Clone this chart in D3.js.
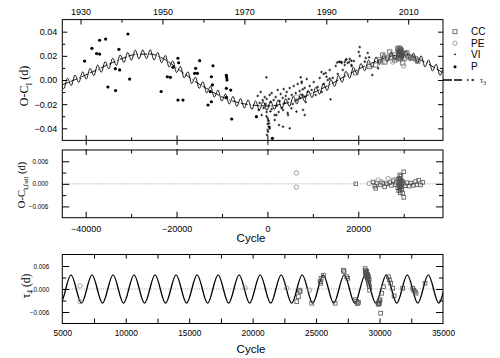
<!DOCTYPE html>
<html><head><meta charset="utf-8">
<script src="https://cdn.jsdelivr.net/npm/d3@7"></script>
<style>body{margin:0;background:#fff}</style>
</head><body>
<svg id="c" width="500" height="358"></svg>
<script>
// ---------------- DATA ----------------
const yearLabels = [1930, 1950, 1970, 1990, 2010];
const yearMinor = [1940, 1960, 1980, 2000];
const cycleLabels = [-40000, -20000, 0, 20000];
const cycleMinor = [-30000, -10000, 10000, 30000];
const topYLabels = [-0.04, -0.02, 0, 0.02, 0.04];
const topYMinor = [-0.03, -0.01, 0.01, 0.03];
const smallYLabels = [-0.006, 0, 0.006];
const smallYMinor = [-0.003, 0.003];
const botXLabels = [5000, 10000, 15000, 20000, 25000, 30000, 35000];
const botXTicks = [7500, 10000, 12500, 15000, 17500, 20000, 22500, 25000, 27500, 30000, 32500];

// tau3 (LITE, long period)
const tau3Cycle = [-45150,-41300,-36900,-32500,-29200,-25900,-22600,-19300,-16000,-12700,-9400,-6100,-2800,0,3800,7100,10400,13700,17000,20300,23600,26900,30200,33500,36900,38650];
const tau3Value = [-0.004,0.002,0.0095,0.017,0.021,0.0215,0.017,0.008,-0.001,-0.0085,-0.015,-0.019,-0.021,-0.0215,-0.0195,-0.0155,-0.010,-0.004,0.003,0.0095,0.015,0.0195,0.021,0.017,0.010,0.006];

// tau4 (short period) extrema
const tau4PeakCycle = [-45660,-44004,-42348,-40691,-39035,-37379,-35723,-34066,-32410,-30754,-29097,-27441,-25785,-24128,-22472,-20816,-19160,-17503,-15847,-14191,-12534,-10878,-9222,-7565,-5909,-4253,-2597,-940,716,2372,4029,5685,7341,8998,10654,12310,13967,15623,17279,18935,20592,22248,23904,25561,27217,28873,30530,32186,33842,35498,37155,38811];
const tau4TroughCycle = [-44832,-43176,-41520,-39863,-38207,-36551,-34895,-33238,-31582,-29926,-28269,-26613,-24957,-23300,-21644,-19988,-18332,-16675,-15019,-13363,-11706,-10050,-8394,-6737,-5081,-3425,-1769,-112,1544,3200,4857,6513,8169,9826,11482,13138,14795,16451,18107,19763,21420,23076,24732,26389,28045,29701,31358,33014,34670,36326,37983,39639];
const tau4PeakValue = 0.0037;
const tau4TroughValue = -0.0037;

// top panel: photographic / visual (P)
const pCycle = [-40242,-38633,-37599,-36938,-36938,-35617,-35110,-33480,-33414,-32533,-32687,-30705,-30330,-23392,-22026,-21366,-20794,-19692,-19537,-19692,-18590,-16013,-15418,-15793,-14912,-12335,-12114,-11982,-13084,-12335,-12555,-9031,-8965,-8899,-9031,-8083,-9031,-7863,-2423,1101];
const pOC = [0.0157,0.0262,0.0219,0.0215,0.0329,0.0339,-0.0058,0.0094,-0.0087,0.0083,0.0254,0.0381,0.0008,-0.0095,0.0027,0.0022,0.0105,0.0180,0.0143,-0.0166,-0.0166,0.0055,0.0055,0.0097,0.0160,0.0027,-0.0041,0.0118,-0.0207,-0.0180,-0.0097,0.0039,0.0021,0.0000,-0.0069,-0.0083,-0.0143,-0.0323,-0.0304,-0.0483];

// top panel: visual (VI)
const viCycle = [-2136,-1916,-1696,-1476,-1255,-1035,-815,-595,-374,-154,-154,66,66,66,286,286,507,507,727,947,947,1388,1608,1828,2049,2269,2489,2709,2930,3150,3370,3590,3811,4031,4251,4471,4692,4912,5352,5573,5793,6234,6454,6674,7115,7335,7555,7776,8216,8437,8657,8877,9318,
 7841,8216,6387,5286,4537,3436,1982,2555,3436,4912,1608,660,-220,130,350,290,130,500,-100,
 -220,7335,7555,7776,8216,
 9759,10199,10640,11080,11521,11961,12402,12843,13283,13724,14385,15045,15486,15927,16367,16587,17028,17248,17689,18129,18570,19010,
 11894,12400,13000,13720,13900,
 20330,20110,20330,22092,21652,23073,24294,
 15777,15337,16291,17393,17980,18494,18494,17026,24366,21430,22385];
const viOC = [-0.0132,-0.0248,-0.0190,-0.0099,-0.0290,-0.0166,-0.0232,-0.0141,-0.0199,-0.0265,-0.0157,-0.0315,-0.0364,-0.0414,-0.0339,-0.0215,-0.0389,-0.0124,-0.0182,-0.0240,-0.0108,-0.0166,-0.0290,-0.0141,-0.0215,-0.0083,-0.0265,-0.0174,-0.0116,-0.0232,-0.0149,-0.0075,-0.0190,-0.0132,-0.0099,-0.0273,-0.0157,-0.0066,-0.0124,-0.0199,-0.0050,-0.0108,-0.0166,-0.0033,-0.0091,-0.0149,-0.0025,-0.0124,-0.0066,-0.0182,0.0008,-0.0099,-0.0050,
 -0.0248,-0.0290,-0.0262,-0.0234,-0.0290,-0.0248,-0.0290,-0.0373,-0.0387,-0.0400,-0.0331,-0.0260,-0.0300,-0.0331,-0.0359,-0.0387,-0.0428,-0.0400,-0.0455,
 0.0022,0.0022,-0.0014,-0.0077,-0.0138,
 -0.0083,-0.0017,-0.0124,-0.0058,0.0017,-0.0099,-0.0033,0.0058,0.0000,0.0083,0.0017,0.0116,0.0050,0.0149,0.0141,0.0083,0.0149,0.0166,0.0141,0.0174,0.0116,0.0157,
 0.0066,0.0050,0.0027,0.0011,-0.0160,
 0.0273,0.0232,0.0199,0.0224,0.0182,0.0041,0.0149,
 0.0152,0.0144,0.0149,0.0171,0.0149,0.0160,0.0124,0.0124,0.0097,0.0152,0.0188];

// top panel: CCD (CC) and photoelectric (PE)
const ccCycle = [23854,24735,25396,25837,26497,26938,27378,28039,28700,28920,28920,29140,29140,29361,29361,29581,29581,28920,29801,30242,30683,30903,31564,32004,32665,33106,28039,29000,29250,29050,29300,29450,29200,22400,19450,29100,29400];
const ccOC = [0.0124,0.0166,0.0207,0.0149,0.0182,0.0232,0.0190,0.0207,0.0257,0.0240,0.0224,0.0207,0.0190,0.0248,0.0232,0.0215,0.0199,0.0182,0.0141,0.0182,0.0224,0.0199,0.0190,0.0182,0.0174,0.0157,0.0166,0.0265,0.0255,0.0210,0.0200,0.0240,0.0175,0.0110,0.0060,0.0230,0.0220];
const peCycle = [25219,26057,27599,30021,31343,6380,6380,22385];
const peOC = [0.0149,0.0190,0.0149,0.0116,0.0182,-0.0140,-0.0175,0.0125];

// middle panel: residuals of the full fit
const midCcCycle = [19449,23266,23633,23853,24100,24900,25400,25800,26300,26900,27300,27700,28100,28400,28700,28800,28900,29000,29050,29100,29150,29200,29250,29300,29350,29400,29450,29500,29600,29700,30020,30020,29800,29900,30300,30700,31200,31600,32100,32600,32900,33300,33700,34200,29120,29180,29230,29280];
const midCcRes = [0.0000,0.0005,-0.0006,-0.0012,0.0002,-0.0003,0.0002,-0.0008,0.0000,0.0003,-0.0004,0.0008,-0.0002,0.0004,-0.0010,0.0012,-0.0018,0.0006,-0.0006,0.0015,-0.0012,0.0002,-0.0024,0.0009,-0.0003,0.0020,-0.0008,0.0004,-0.0014,0.0007,0.0032,-0.0036,-0.0025,0.0001,-0.0005,0.0003,-0.0006,0.0002,-0.0004,0.0006,-0.0002,0.0010,-0.0003,0.0004,0.0024,-0.0017,0.0011,-0.0009];
const midPeCycle = [6380,6380,22385,24367,26570,25100,27800];
const midPeRes = [0.0029,-0.0009,0.0001,0.0010,0.0014,0.0006,0.0011];

// bottom panel: tau4 from the data
const botCcCycle = [23478,23609,23688,23740,24660,25315,25368,25394,25578,26497,27153,27205,27415,27494,28072,28203,28334,28250,
 28860,28900,28930,28960,28990,29010,29040,29060,29080,29100,29120,29140,29160,29180,29200,29220,28880,28950,29020,
 29880,29920,29950,29980,30010,30040,30093,30172,30303,30697,30775,30880,31038,31143,31825,32613,32700,32790,32875,33584];
const botCcTau4 = [-0.0033,-0.0020,-0.0003,-0.0007,-0.0037,0.0019,0.0015,0.0028,0.0036,-0.0037,0.0049,0.0045,0.0032,0.0028,-0.0028,-0.0032,-0.0035,-0.0038,
 0.0053,0.0048,0.0044,0.0040,0.0046,0.0036,0.0031,0.0038,0.0027,0.0022,0.0033,0.0017,0.0012,0.0025,0.0007,-0.0003,0.0041,0.0034,0.0029,
 -0.0037,-0.0040,-0.0034,-0.0038,-0.0031,-0.0028,-0.0063,-0.0011,0.0006,0.0032,0.0024,0.0015,0.0002,-0.0018,0.0002,0.0002,-0.0003,-0.0007,-0.0011,0.0015];
const botPeCycle = [6400,6400,19400,22690,24476];
const botPeTau4 = [0.0008,-0.0033,0.0003,0.0002,-0.0003];

const legendItems = ["CC", "PE", "VI", "P"];

// ---------------- DRAW ----------------
const svg = d3.select("#c");
const F = "'Liberation Sans', Arial, Helvetica, sans-serif";
const SERIF = "'Liberation Serif', 'Times New Roman', serif";
const L = 62.3, R = 443;

const xCyc = d3.scaleLinear().domain([-45150, 38650]).range([L, R]);
const xYear = d3.scaleLinear().domain([1925.55, 2018.5]).range([L, R]);
const yTop = d3.scaleLinear().domain([-0.05, 0.05]).range([140.4, 19.6]);
const yMid = d3.scaleLinear().domain([-0.009, 0.009]).range([217.7, 150]);
const xBot = d3.scaleLinear().domain([5000, 35000]).range([L, R]);
const yBot = d3.scaleLinear().domain([-0.009, 0.009]).range([323.5, 254.5]);

const panels = [
  {id: "pt", x: xCyc, y: yTop},
  {id: "pm", x: xCyc, y: yMid},
  {id: "pb", x: xBot, y: yBot}
];
const defs = svg.append("defs");
panels.forEach(p => {
  defs.append("clipPath").attr("id", "clip-" + p.id).append("rect")
    .attr("x", L).attr("y", p.y.range()[1]).attr("width", R - L).attr("height", p.y.range()[0] - p.y.range()[1]);
});

function ax(transform, axis, fs) {
  const g = svg.append("g").attr("transform", transform).call(axis);
  g.select(".domain").remove();
  g.selectAll("line").attr("stroke", "#000").attr("stroke-width", 1);
  g.selectAll("text").attr("font-family", F).attr("font-size", fs || 9).attr("fill", "#000");
  return g;
}
const none = () => "";

// ---- zero lines
[yMid, yBot].forEach(y => {
  svg.append("line").attr("x1", L).attr("x2", R).attr("y1", y(0)).attr("y2", y(0))
    .attr("stroke", "#8a8a8a").attr("stroke-width", 0.8).attr("stroke-dasharray", "1,1.4");
});

// ---- curves
const extrema = tau4PeakCycle.map(c => [c, tau4PeakValue])
  .concat(tau4TroughCycle.map(c => [c, tau4TroughValue]))
  .sort((a, b) => a[0] - b[0]);
const tau3Scale = d3.scaleLinear().domain(tau3Cycle).range(tau3Value);

const gTop = svg.append("g").attr("clip-path", "url(#clip-pt)");
gTop.append("path")
  .datum(tau3Cycle.map((c, i) => [c, tau3Value[i]]))
  .attr("d", d3.line().x(d => xCyc(d[0])).y(d => yTop(d[1])).curve(d3.curveMonotoneX))
  .attr("fill", "none").attr("stroke", "#000").attr("stroke-width", 0.9)
  .attr("stroke-dasharray", "7,2,7,2,1,2");
gTop.append("path")
  .datum(extrema.map(d => [d[0], tau3Scale(d[0]) + d[1]]))
  .attr("d", d3.line().x(d => xCyc(d[0])).y(d => yTop(d[1])).curve(d3.curveMonotoneX))
  .attr("fill", "none").attr("stroke", "#000").attr("stroke-width", 0.9);

const gBot = svg.append("g").attr("clip-path", "url(#clip-pb)");
gBot.append("path")
  .datum(extrema)
  .attr("d", d3.line().x(d => xBot(d[0])).y(d => yBot(d[1])).curve(d3.curveMonotoneX))
  .attr("fill", "none").attr("stroke", "#000").attr("stroke-width", 1.3);

// ---- symbols
function squares(g, xs, ys, cx, cy, s) {
  g.selectAll(null).data(xs.map((c, i) => [c, ys[i]])).enter().append("rect")
    .attr("x", d => cx(d[0]) - s / 2).attr("y", d => cy(d[1]) - s / 2)
    .attr("width", s).attr("height", s)
    .attr("fill", "none").attr("stroke", "#505050").attr("stroke-width", 0.8);
}
function circles(g, xs, ys, cx, cy, r) {
  g.selectAll(null).data(xs.map((c, i) => [c, ys[i]])).enter().append("circle")
    .attr("cx", d => cx(d[0])).attr("cy", d => cy(d[1])).attr("r", r)
    .attr("fill", "none").attr("stroke", "#8c8c8c").attr("stroke-width", 0.8);
}
const gTopPts = svg.append("g").attr("clip-path", "url(#clip-pt)");
// VI crosses
gTopPts.selectAll(null).data(viCycle.map((c, i) => [c, viOC[i]])).enter().append("path")
  .attr("d", d => { const x = xCyc(d[0]), y = yTop(d[1]); return `M${x-1.3},${y}H${x+1.3}M${x},${y-1.3}V${y+1.3}`; })
  .attr("stroke", "#000").attr("stroke-width", 0.8);
// P dots
gTopPts.selectAll(null).data(pCycle.map((c, i) => [c, pOC[i]])).enter().append("circle")
  .attr("cx", d => xCyc(d[0])).attr("cy", d => yTop(d[1])).attr("r", 1.6).attr("fill", "#000");
squares(gTopPts, ccCycle, ccOC, xCyc, yTop, 4.2);
circles(gTopPts, peCycle, peOC, xCyc, yTop, 2.2);

const gMidPts = svg.append("g").attr("clip-path", "url(#clip-pm)");
squares(gMidPts, midCcCycle, midCcRes, xCyc, yMid, 3.6);
circles(gMidPts, midPeCycle, midPeRes, xCyc, yMid, 2.2);

const gBotPts = svg.append("g").attr("clip-path", "url(#clip-pb)");
squares(gBotPts, botCcCycle, botCcTau4, xBot, yBot, 3.8);
circles(gBotPts, botPeCycle, botPeTau4, xBot, yBot, 2.2);

// ---- frames
panels.forEach(p => {
  svg.append("rect").attr("x", L).attr("y", p.y.range()[1]).attr("width", R - L)
    .attr("height", p.y.range()[0] - p.y.range()[1]).attr("fill", "none").attr("stroke", "#000").attr("stroke-width", 1);
});

// ---- top panel axes
ax(`translate(0,${yTop.range()[1]})`, d3.axisTop(xYear).tickValues(yearLabels).tickSize(-5).tickPadding(5).tickFormat(d3.format("d")), 9);
ax(`translate(0,${yTop.range()[1]})`, d3.axisTop(xYear).tickValues(yearMinor).tickSize(-3).tickFormat(none));
ax(`translate(${L},0)`, d3.axisLeft(yTop).tickValues(topYLabels).tickSize(-5).tickPadding(5).tickFormat(d3.format(".2f")), 9);
ax(`translate(${L},0)`, d3.axisLeft(yTop).tickValues(topYMinor).tickSize(-3).tickFormat(none));
ax(`translate(${R},0)`, d3.axisRight(yTop).tickValues(topYLabels).tickSize(-5).tickFormat(none));
ax(`translate(${R},0)`, d3.axisRight(yTop).tickValues(topYMinor).tickSize(-3).tickFormat(none));
ax(`translate(0,${yTop.range()[0]})`, d3.axisBottom(xCyc).tickValues(cycleLabels).tickSize(-5).tickFormat(none));
ax(`translate(0,${yTop.range()[0]})`, d3.axisBottom(xCyc).tickValues(cycleLabels).tickSize(4.5).tickFormat(none));
ax(`translate(0,${yTop.range()[0]})`, d3.axisBottom(xCyc).tickValues(cycleMinor).tickSize(-3).tickFormat(none));

// ---- middle panel axes
ax(`translate(0,${yMid.range()[1]})`, d3.axisTop(xCyc).tickValues(cycleLabels).tickSize(-5).tickFormat(none));
ax(`translate(0,${yMid.range()[1]})`, d3.axisTop(xCyc).tickValues(cycleLabels).tickSize(1).tickFormat(none));
ax(`translate(0,${yMid.range()[1]})`, d3.axisTop(xCyc).tickValues(cycleMinor).tickSize(-3.5).tickFormat(none));
ax(`translate(0,${yMid.range()[0]})`, d3.axisBottom(xCyc).tickValues(cycleLabels).tickSize(-6).tickPadding(7.5).tickFormat(d3.format("d")), 9);
ax(`translate(0,${yMid.range()[0]})`, d3.axisBottom(xCyc).tickValues(cycleMinor).tickSize(-3.7).tickFormat(none));
ax(`translate(${L},0)`, d3.axisLeft(yMid).tickValues(smallYLabels).tickSize(-7).tickPadding(14).tickFormat(d3.format(".3f")), 6.3);
ax(`translate(${L},0)`, d3.axisLeft(yMid).tickValues(smallYMinor).tickSize(-4).tickFormat(none));
ax(`translate(${R},0)`, d3.axisRight(yMid).tickValues(smallYLabels).tickSize(-7).tickFormat(none));
ax(`translate(${R},0)`, d3.axisRight(yMid).tickValues(smallYMinor).tickSize(-4).tickFormat(none));

// ---- bottom panel axes
ax(`translate(0,${yBot.range()[1]})`, d3.axisTop(xBot).tickValues(botXTicks).tickSize(-4).tickFormat(none));
ax(`translate(0,${yBot.range()[0]})`, d3.axisBottom(xBot).tickValues(botXTicks).tickSize(-5).tickFormat(none));
ax(`translate(0,${yBot.range()[0]})`, d3.axisBottom(xBot).tickValues(botXLabels).tickSize(0).tickPadding(6.5).tickFormat(d3.format("d")), 8.3);
ax(`translate(${L},0)`, d3.axisLeft(yBot).tickValues(smallYLabels).tickSize(-7).tickPadding(13).tickFormat(d3.format(".3f")), 6.3);
ax(`translate(${L},0)`, d3.axisLeft(yBot).tickValues(smallYMinor).tickSize(-4).tickFormat(none));
ax(`translate(${R},0)`, d3.axisRight(yBot).tickValues(smallYLabels).tickSize(-7).tickFormat(none));
ax(`translate(${R},0)`, d3.axisRight(yBot).tickValues(smallYMinor).tickSize(-4).tickFormat(none));

// ---- axis titles
svg.append("text").attr("x", 251).attr("y", 241.5).attr("text-anchor", "middle")
  .attr("font-family", F).attr("font-size", 11.5).text("Cycle");
svg.append("text").attr("x", 251).attr("y", 352.5).attr("text-anchor", "middle")
  .attr("font-family", F).attr("font-size", 11.5).text("Cycle");

function ytitle(x, y, fs, main, sub, tail) {
  const t = svg.append("text").attr("transform", `translate(${x},${y}) rotate(-90)`)
    .attr("text-anchor", "middle").attr("font-family", SERIF).attr("font-size", fs);
  t.append("tspan").text(main);
  t.append("tspan").attr("font-size", fs * 0.65).attr("dy", fs * 0.3).text(sub);
  t.append("tspan").attr("dy", -fs * 0.3).text(tail);
}
ytitle(28, 86, 12, "O-C", "I", " (d)");
ytitle(25, 185, 10.5, "O-C", "I,full", " (d)");
ytitle(30, 286, 11.5, "\u03C4", "4", " (d)");

// ---- legend
const legY = [31.7, 43.3, 54.3, 66.7];
const lg = svg.append("g");
lg.append("rect").attr("x", 453).attr("y", legY[0] - 2).attr("width", 4).attr("height", 4)
  .attr("fill", "none").attr("stroke", "#505050").attr("stroke-width", 0.8);
lg.append("circle").attr("cx", 455).attr("cy", legY[1]).attr("r", 2.2)
  .attr("fill", "none").attr("stroke", "#8c8c8c").attr("stroke-width", 0.8);
lg.append("circle").attr("cx", 455).attr("cy", legY[2]).attr("r", 0.9).attr("fill", "#000");
lg.append("circle").attr("cx", 455).attr("cy", legY[3]).attr("r", 1.5).attr("fill", "#000");
legendItems.forEach((t, i) => {
  lg.append("text").attr("x", 471).attr("y", legY[i] + 3.6).attr("font-family", F)
    .attr("font-size", 10).text(t);
});
lg.append("line").attr("x1", R).attr("x2", 474).attr("y1", yTop(0)).attr("y2", yTop(0))
  .attr("stroke", "#000").attr("stroke-width", 1.6).attr("stroke-dasharray", "9,2,8,5,1.5,3");
const t3 = lg.append("text").attr("x", 480).attr("y", yTop(0) + 2.5).attr("font-family", SERIF).attr("font-size", 8);
t3.append("tspan").text("\u03C4");
t3.append("tspan").attr("font-size", 5.5).attr("dy", 2).text("3");
</script>
</body></html>
